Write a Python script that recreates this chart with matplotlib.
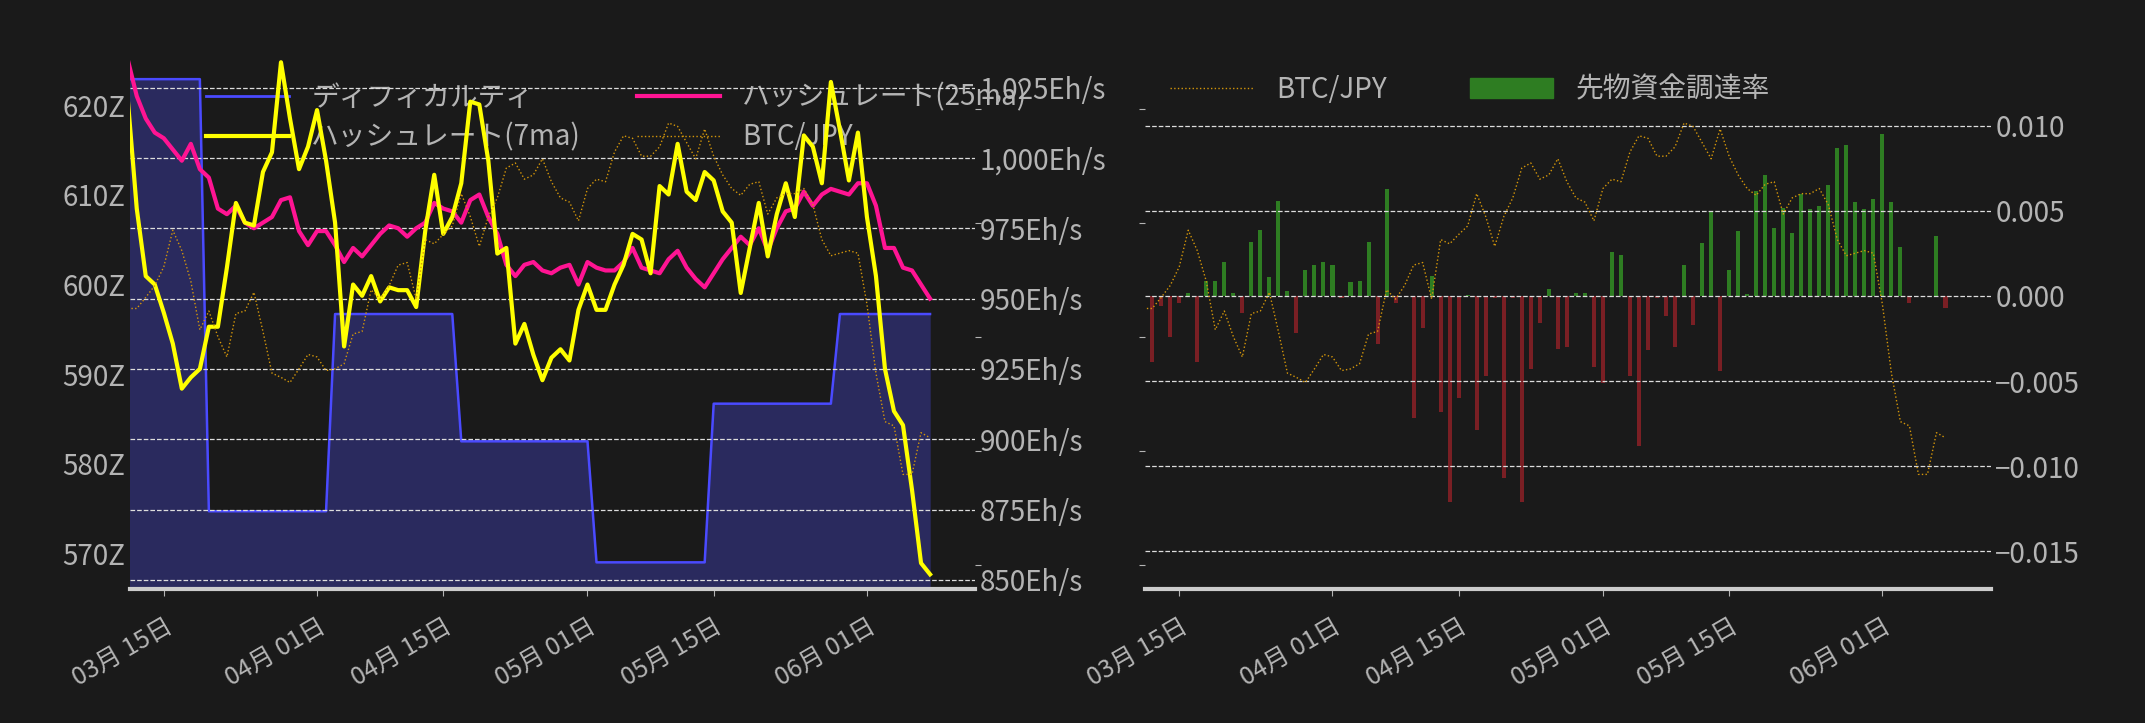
import numpy as np
import pandas as pd
import matplotlib
matplotlib.use("Agg")
import matplotlib.pyplot as plt
import matplotlib.dates as mdates
from matplotlib.ticker import FuncFormatter
from matplotlib.patches import Patch
from matplotlib.lines import Line2D

plt.rcParams['font.family'] = ['Noto Sans CJK JP', 'DejaVu Sans']

# daily data from 2025-03-11
difficulty = ([622.9] * 9 + [574.7] * 14 + [596.7] * 14 + [582.5] * 15
              + [569.0] * 13 + [586.7] * 14 + [596.7] * 11)
hash_7ma = [1021, 982, 958, 955, 945, 934, 918, 922, 925, 940, 940, 961, 984, 977, 976,
            995, 1002, 1034, 1014, 996, 1004, 1017, 999, 977, 933, 955, 951, 958, 949, 954,
            953, 953, 947, 974, 994, 973, 979, 991, 1020, 1019, 999, 966, 968, 934, 941,
            930, 921, 929, 932, 928, 946, 955, 946, 946, 955, 962, 973, 971, 959, 990,
            987, 1005, 988, 985, 995, 992, 981, 977, 952, 968, 984, 965, 980, 991, 979,
            1008, 1004, 991, 1027, 1010, 992, 1009, 979, 958, 925, 910, 905, 882, 856, 852]
hash_25ma = [1035, 1022, 1014, 1009, 1007, 1003, 999, 1005, 996, 993, 982, 980, 983, 977, 975,
             977, 979, 985, 986, 974, 969, 974, 974, 969, 963, 968, 965, 969, 973, 976,
             975, 972, 975, 977, 984, 982, 981, 977, 985, 987, 979, 973, 962, 958, 962,
             963, 960, 959, 961, 962, 955, 963, 961, 960, 960, 963, 968, 961, 960, 959,
             964, 967, 961, 957, 954, 959, 964, 968, 972, 969, 975, 967, 975, 981, 982,
             988, 983, 987, 989, 988, 987, 991, 991, 983, 968, 968, 961, 960, 955, 950]
btc_jpy = [1385, 1385, 1398, 1412, 1434, 1477, 1453, 1417, 1360, 1382, 1352, 1328, 1379, 1382, 1404,
           1358, 1309, 1304, 1298, 1314, 1331, 1328, 1312, 1314, 1320, 1355, 1358, 1407, 1396, 1412,
           1436, 1439, 1396, 1466, 1461, 1472, 1482, 1520, 1493, 1458, 1493, 1515, 1550, 1556, 1537,
           1542, 1561, 1534, 1515, 1510, 1488, 1526, 1537, 1534, 1569, 1588, 1585, 1564, 1564, 1575,
           1603, 1599, 1580, 1561, 1596, 1564, 1542, 1526, 1518, 1531, 1534, 1496, 1515, 1520, 1520,
           1526, 1507, 1466, 1447, 1450, 1453, 1450, 1390, 1309, 1252, 1247, 1190, 1190, 1239, 1233]
funding = [-0.0057, -0.0039, -0.0006, -0.0024, -0.0004, 0.0002, -0.0039, 0.0009, 0.0009, 0.0020,
           0.0002, -0.0010, 0.0032, 0.0039, 0.0011, 0.0056, 0.0003, -0.0022, 0.0015, 0.0018,
           0.0020, 0.0018, -0.0001, 0.0008, 0.0009, 0.0032, -0.0028, 0.0063, -0.0004, 0.00002,
           -0.0072, -0.0019, 0.0012, -0.0068, -0.0121, -0.0060, 0.00003, -0.0079, -0.0047, -0.0001,
           -0.0107, -0.0001, -0.0121, -0.0043, -0.0016, 0.0004, -0.0031, -0.0030, 0.0002, 0.0002,
           -0.0042, -0.0051, 0.0026, 0.0024, -0.0047, -0.0088, -0.0032, -0.0001, -0.0012, -0.0030,
           0.0018, -0.0017, 0.0031, 0.0050, -0.0044, 0.0015, 0.0038, 0.0001, 0.0062, 0.0071,
           0.0040, 0.0052, 0.0037, 0.0060, 0.0051, 0.0053, 0.0065, 0.0087, 0.0089, 0.0055,
           0.0051, 0.0057, 0.0095, 0.0055, 0.0029, -0.0004, 0.00002, -0.00003, 0.0035, -0.0007]

dates = pd.date_range("2025-03-11", periods=len(btc_jpy), freq="D")

BG = "#1a1a1a"
TXT = "#b4b4b4"
fig = plt.figure(figsize=(21.45, 7.23), dpi=100, facecolor=BG)
xlim = (pd.Timestamp("2025-03-11 06:00"), pd.Timestamp("2025-06-13"))
btc_lim = (1055, 1683)
date_fmt = mdates.DateFormatter('%m月 %d日')
ticks = pd.to_datetime(["2025-03-15", "2025-04-01", "2025-04-15",
                        "2025-05-01", "2025-05-15", "2025-06-01"])


def style(ax):
    ax.set_facecolor("none")
    for s in ax.spines.values():
        s.set_visible(False)
    ax.tick_params(colors=TXT, labelsize=20, length=5)


def date_axis(ax):
    ax.set_xlim(*xlim)
    ax.set_xticks(ticks)
    ax.xaxis.set_major_formatter(date_fmt)
    ax.tick_params(axis='x', labelsize=18, pad=12)
    plt.setp(ax.get_xticklabels(), rotation=30, ha="right", rotation_mode="anchor")


# ---- left: difficulty / hashrate ----
ax1 = fig.add_axes([0.0606, 0.185, 0.394, 0.739])
ax1.set_facecolor(BG)
ax2 = ax1.twinx()
ax3 = ax1.twinx()
for a in (ax1, ax2, ax3):
    style(a)
ax1.spines['bottom'].set_visible(True)
ax1.spines['bottom'].set_color("#cccccc")
ax1.spines['bottom'].set_linewidth(3)

ax1.fill_between(dates, difficulty, 500, color="#2a2a5e", zorder=1)
ax1.plot(dates, difficulty, color="#4a4aff", lw=1.8, zorder=2)
ax1.set_ylim(566.0, 625.6)
ax1.set_yticks([570, 580, 590, 600, 610, 620])
ax1.yaxis.set_major_formatter(FuncFormatter(lambda v, p: f"{v:.0f}Z"))
ax1.tick_params(axis='y', length=0)

ax3.plot(dates, btc_jpy, color="#d4960a", lw=1, ls=":")
ax3.set_ylim(*btc_lim)
ax3.set_yticks([1084, 1218, 1352, 1486, 1620])
ax3.tick_params(axis='y', labelright=False, length=4)

ax2.plot(dates, hash_25ma, color="#ff1493", lw=3)
ax2.plot(dates, hash_7ma, color="#ffff00", lw=3)
ax2.set_ylim(846.7, 1036.6)
ax2.set_yticks(range(850, 1026, 25))
ax2.yaxis.set_major_formatter(FuncFormatter(lambda v, p: f"{v:,.0f}Eh/s"))
ax2.tick_params(axis='y', length=0)
ax2.grid(axis='y', color="#dddddd", ls="--", lw=0.9)

date_axis(ax1)

handles = [Line2D([], [], color="#4a4aff", lw=2), Line2D([], [], color="#ffff00", lw=3),
           Line2D([], [], color="#ff1493", lw=3), Line2D([], [], color="#d4960a", lw=1, ls=":")]
labels = ["ディフィカルティ", "ハッシュレート(7ma)", "ハッシュレート(25ma)", "BTC/JPY"]
ax1.legend(handles, labels, ncol=2, frameon=False, loc="upper left",
           bbox_to_anchor=(0.06, 0.995), fontsize=20, labelcolor=TXT,
           handlelength=3, columnspacing=2.0, labelspacing=0.35)

# ---- right: funding rate ----
bx = fig.add_axes([0.534, 0.185, 0.394, 0.739])
bx.set_facecolor(BG)
bx2 = bx.twinx()
for a in (bx, bx2):
    style(a)
bx.spines['bottom'].set_visible(True)
bx.spines['bottom'].set_color("#cccccc")
bx.spines['bottom'].set_linewidth(3)

colors = ["#2e7d22" if v >= 0 else "#7a1f24" for v in funding]
bx.bar(dates, funding, width=0.45, color=colors)
bx.set_ylim(-0.01724, 0.01417)
bx.set_yticks([-0.015, -0.010, -0.005, 0.0, 0.005, 0.010])
bx.yaxis.set_major_formatter(FuncFormatter(lambda v, p: f"{v:.3f}".replace("-", "−")))
bx.yaxis.tick_right()
bx.tick_params(axis='y', length=0)
bx.grid(axis='y', color="#dddddd", ls="--", lw=0.9)

bx2.plot(dates, btc_jpy, color="#d4960a", lw=1, ls=":")
bx2.set_ylim(*btc_lim)
bx2.yaxis.tick_left()
bx2.set_yticks([1084, 1218, 1352, 1486, 1620])
bx2.tick_params(axis='y', labelleft=False, length=4)

date_axis(bx)

bx.legend([Line2D([], [], color="#d4960a", lw=1, ls=":"), Patch(color="#2e7d22")],
          ["BTC/JPY", "先物資金調達率"], ncol=2, frameon=False, loc="upper left",
          bbox_to_anchor=(0.0, 1.01), fontsize=20, labelcolor=TXT,
          handlelength=3, columnspacing=3)

fig.savefig("out.png", facecolor=BG)
